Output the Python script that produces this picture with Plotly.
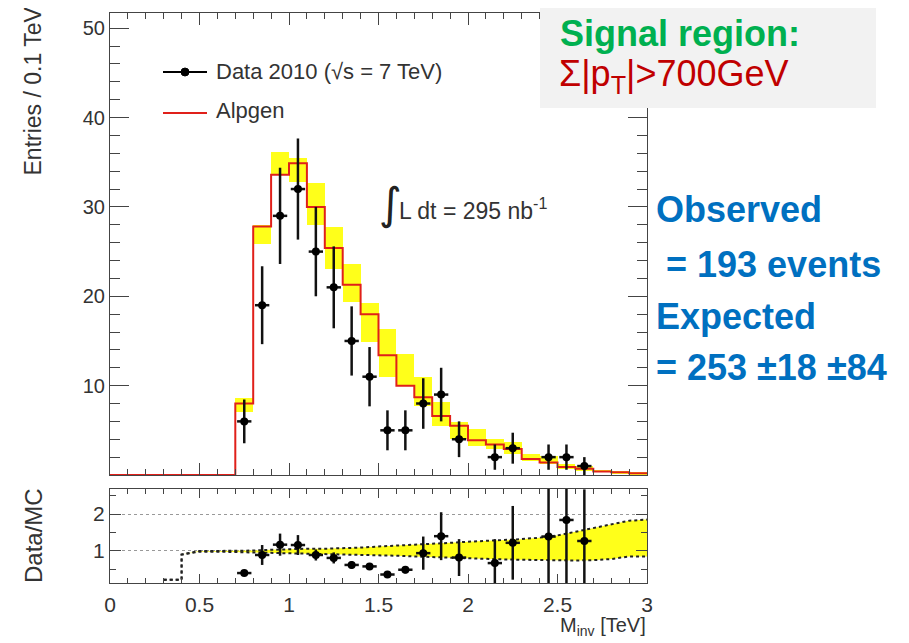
import plotly.graph_objects as go
import numpy as np

# ---------------- data ----------------
# MC (Alpgen) per 0.1 TeV bin, lower edges 0.0 .. 2.9
mc_edges = [round(0.1 * i, 1) for i in range(31)]
mc_vals = [0, 0, 0, 0, 0, 0, 0, 8.0, 27.8, 33.6, 34.9, 30.0, 25.4, 21.3, 18.0, 13.4,
           10.0, 8.7, 6.6, 5.5, 3.9, 3.4, 2.9, 1.8, 1.4, 0.9, 0.7, 0.4, 0.3, 0.2]

# MC uncertainty band (yellow boxes), bins 0.7 .. 2.9
band_centers = [round(0.75 + 0.1 * i, 2) for i in range(23)]
band_lo = [7.0, 25.8, 33.6, 32.8, 28.0, 23.0, 19.4, 14.9, 11.0, 10.0, 7.7, 5.5, 4.0,
           3.2, 2.9, 2.3, 1.6, 1.2, 0.7, 0.5, 0.3, 0.2, 0.1]
band_hi = [8.6, 28.0, 36.2, 35.5, 32.7, 27.8, 23.6, 19.3, 16.3, 13.5, 11.0, 8.2, 5.9,
           5.1, 4.0, 3.7, 2.3, 2.1, 1.2, 1.0, 0.6, 0.4, 0.3]

# Data 2010
data_x = [0.75, 0.85, 0.95, 1.05, 1.15, 1.25, 1.35, 1.45, 1.55, 1.65, 1.75, 1.85, 1.95,
          2.05, 2.15, 2.25, 2.35, 2.45, 2.55, 2.65]
data_n = [6, 19, 29, 32, 25, 21, 15, 11, 5, 5, 8, 9, 4, 0, 2, 3, 0, 2, 2, 1]

# Data/MC ratio
ratio_x = [0.75, 0.85, 0.95, 1.05, 1.15, 1.25, 1.35, 1.45, 1.55, 1.65, 1.75, 1.85, 1.95,
           2.15, 2.25, 2.45, 2.55, 2.65]
ratio_y = [0.40, 0.89, 1.17, 1.16, 0.89, 0.81, 0.62, 0.58, 0.36, 0.49, 0.94, 1.40, 0.82,
           0.67, 1.22, 1.39, 1.84, 1.27]
ratio_err = [0.06, 0.27, 0.30, 0.27, 0.15, 0.15, 0.10, 0.07, 0.05, 0.10, 0.45, 0.65, 0.50,
             0.65, 1.00, 1.40, 1.80, 1.40]

# ratio-panel MC uncertainty envelope
rband_x = [0.30, 0.40, 0.40, 0.45, 0.50, 0.60, 0.70, 0.80, 0.90, 1.00, 1.10, 1.20, 1.30,
           1.40, 1.50, 1.60, 1.70, 1.80, 1.90, 2.00, 2.10, 2.20, 2.30, 2.40, 2.50, 2.60,
           2.70, 2.80, 2.90, 3.00]
rband_hi = [0.22, 0.22, 0.90, 0.96, 1.00, 1.00, 1.00, 1.01, 1.03, 1.05, 1.06, 1.06, 1.07,
            1.09, 1.12, 1.14, 1.17, 1.19, 1.22, 1.25, 1.27, 1.29, 1.32, 1.36, 1.42, 1.52,
            1.62, 1.74, 1.82, 1.85]
rband_lo = [0.22, 0.22, 0.90, 0.94, 0.98, 0.98, 0.97, 0.96, 0.95, 0.95, 0.94, 0.93, 0.92,
            0.91, 0.89, 0.87, 0.85, 0.83, 0.81, 0.79, 0.78, 0.77, 0.76, 0.75, 0.74, 0.74,
            0.75, 0.78, 0.85, 0.85]

# ---------------- geometry helpers (page pixel coords) ----------------
OFF = 8                      # default body margin of the html page
W, H = 909 - OFF, 643 - OFF  # figure size so it fits the window
L, R, T, B = 110, 647, 13, 583   # plot area in page pixels


def px(x):
    return (x - L) / (R - L)


def py(y):
    return (B - y) / (B - T)


main_bottom = py(475)
ratio_top = py(489)

FONT = "Liberation Sans, Arial, sans-serif"
TXT = "#333333"
TICKC = "#444444"

fig = go.Figure()

# yellow uncertainty boxes
fig.add_trace(go.Bar(
    x=band_centers, y=np.array(band_hi) - np.array(band_lo), base=band_lo, width=0.1,
    marker=dict(color="#ffff1a", line=dict(width=0)), xaxis="x", yaxis="y",
    showlegend=False, hoverinfo="skip"))

# MC step
fig.add_trace(go.Scatter(
    x=mc_edges, y=mc_vals + [mc_vals[-1]], mode="lines", line_shape="hv",
    line=dict(color="#e0201a", width=2), xaxis="x", yaxis="y", showlegend=False))

# data points
dx = [x for x, n in zip(data_x, data_n) if n > 0]
dn = [n for n in data_n if n > 0]
fig.add_trace(go.Scatter(
    x=dx, y=dn, mode="markers",
    marker=dict(color="black", size=8),
    error_y=dict(type="data", array=np.sqrt(dn), color="#111111", thickness=2.5, width=0),
    error_x=dict(type="constant", value=0.04, color="#111111", thickness=2.5, width=0),
    xaxis="x", yaxis="y", showlegend=False))

# ratio band
fig.add_trace(go.Scatter(
    x=rband_x, y=rband_lo, mode="lines", line=dict(color="#222222", width=2, dash="dot"),
    xaxis="x2", yaxis="y2", showlegend=False))
fig.add_trace(go.Scatter(
    x=rband_x, y=rband_hi, mode="lines", line=dict(color="#222222", width=2, dash="dot"),
    fill="tonexty", fillcolor="#ffff1a", xaxis="x2", yaxis="y2", showlegend=False))

# ratio points
fig.add_trace(go.Scatter(
    x=ratio_x, y=ratio_y, mode="markers", marker=dict(color="black", size=8),
    error_y=dict(type="data", array=ratio_err, color="#111111", thickness=2.5, width=0),
    error_x=dict(type="constant", value=0.04, color="#111111", thickness=2.5, width=0),
    xaxis="x2", yaxis="y2", showlegend=False))

axis_common = dict(showline=True, linecolor=TICKC, linewidth=1, mirror="allticks",
                   ticks="inside", tickcolor=TICKC, zeroline=False)

fig.update_layout(
    width=W, height=H,
    margin=dict(l=L - OFF, r=W - (R - OFF), t=T - OFF, b=H - (B - OFF), pad=0),
    paper_bgcolor="white", plot_bgcolor="white",
    barmode="overlay", bargap=0,
    showlegend=False,
    xaxis=dict(domain=[0, 1], anchor="y", range=[0, 3], dtick=0.5, tick0=0,
               showticklabels=False, ticklen=12, showgrid=False,
               minor=dict(dtick=0.1, ticklen=6, ticks="inside", tickcolor=TICKC),
               **axis_common),
    yaxis=dict(domain=[main_bottom, 1], anchor="x", range=[0, 51.7],
               tickvals=[10, 20, 30, 40, 50], ticklen=19, showgrid=False,
               tickfont=dict(family=FONT, size=20, color=TXT),
               minor=dict(dtick=2, ticklen=10, ticks="inside", tickcolor=TICKC),
               **axis_common),
    xaxis2=dict(domain=[0, 1], anchor="y2", range=[0, 3], dtick=0.5, tick0=0,
                ticklen=9, showgrid=False, ticklabelstandoff=3,
                tickfont=dict(family=FONT, size=21, color=TXT),
                minor=dict(dtick=0.1, ticklen=5, ticks="inside", tickcolor=TICKC),
                **axis_common),
    yaxis2=dict(domain=[0, ratio_top], anchor="x2", range=[0.13, 2.68],
                tickvals=[1, 2], ticklen=11, showgrid=True, gridcolor="#999999",
                griddash="dot", gridwidth=1,
                tickfont=dict(family=FONT, size=21, color=TXT),
                minor=dict(tickvals=[0.5, 1.5, 2.5], ticklen=6, ticks="inside",
                           tickcolor=TICKC),
                **axis_common),
)

shapes = []
annotations = []


def note(x, y, text, size, color=TXT, xanchor="left", yanchor="middle", angle=0,
         family=FONT):
    annotations.append(dict(xref="paper", yref="paper", x=px(x), y=py(y), xanchor=xanchor,
                            yanchor=yanchor, showarrow=False, text=text, textangle=angle,
                            font=dict(family=family, size=size, color=color)))


# legend (manual)
shapes.append(dict(type="line", xref="paper", yref="paper", x0=px(163), x1=px(207),
                   y0=py(72), y1=py(72), line=dict(color="black", width=2)))
shapes.append(dict(type="circle", xref="paper", yref="paper", x0=px(181), x1=px(189),
                   y0=py(76), y1=py(68), fillcolor="black", line=dict(color="black", width=1)))
shapes.append(dict(type="line", xref="paper", yref="paper", x0=px(163), x1=px(207),
                   y0=py(113), y1=py(113), line=dict(color="#e0201a", width=2)))
note(214, 72, "Data 2010 (√s = 7 TeV)", 22)
note(214, 111, "Alpgen", 22)

# luminosity
note(377, 203, "∫", 44, color="#222222", family="DejaVu Sans, sans-serif")
note(397, 209, "L dt = 295 nb<sup>-1</sup>", 23)

# axis titles
note(33, 5, "Entries / 0.1 TeV", 23, xanchor="center", yanchor="top", angle=-90)
note(33, 536, "Data/MC", 24, xanchor="center", angle=-90)
note(648, 641, "M<sub>inv</sub> [TeV]", 20, xanchor="right", yanchor="bottom")

# signal region box
shapes.append(dict(type="rect", xref="paper", yref="paper", x0=px(540), x1=px(876),
                   y0=py(108), y1=py(0), fillcolor="#f2f2f2", line=dict(width=0),
                   layer="above"))
note(558, 33, "<b>Signal region:</b>", 36, color="#00b050")
note(557, 76, "Σ|p<sub>T</sub>|>700GeV", 36, color="#c00000")

# observed / expected
blue = "#0070c0"
for txt, yy in [("Observed", 210), (" = 193 events", 264), ("Expected", 316),
                ("= 253 ±18 ±84", 368)]:
    note(654, yy, "<b>" + txt + "</b>", 36, color=blue)

fig.update_layout(shapes=shapes, annotations=annotations)

fig.write_html("out.html")
